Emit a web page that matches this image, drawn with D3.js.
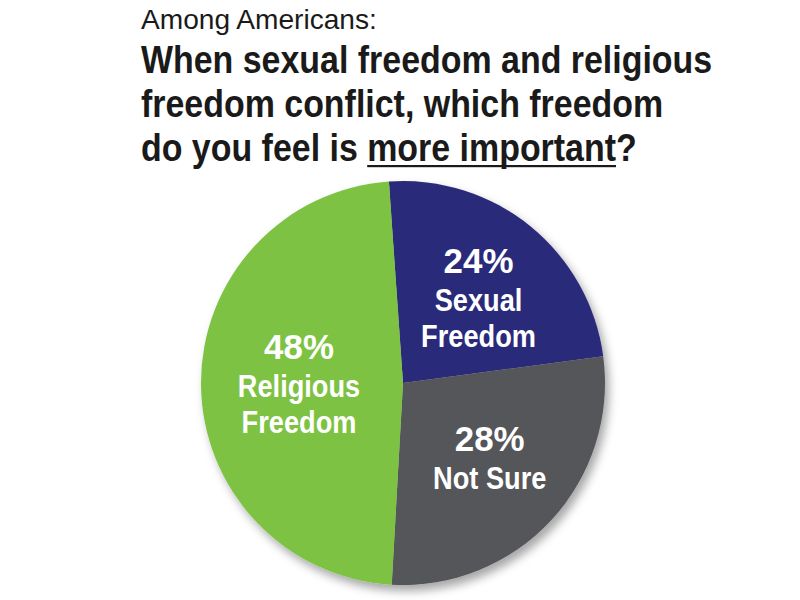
<!DOCTYPE html>
<html>
<head>
<meta charset="utf-8">
<script src="https://cdn.jsdelivr.net/npm/d3@7/dist/d3.min.js"></script>
<style>
  html, body { margin: 0; padding: 0; background: #ffffff; }
  svg { display: block; }
</style>
</head>
<body>
<svg id="chart" width="800" height="600"></svg>
<script>
// ---- data ----
const categories = ["Sexual Freedom", "Not Sure", "Religious Freedom"];
const values = [24, 28, 48];
const labelLines = [["Sexual", "Freedom"], ["Not Sure"], ["Religious", "Freedom"]];
const subtitle = "Among Americans:";
const titleLines = [
  "When sexual freedom and religious",
  "freedom conflict, which freedom",
  "do you feel is more important?"
];
const emphasis = "more important";

// ---- drawing ----
const svg = d3.select("#chart");
const cx = 403, cy = 383, R = 202;

const defs = svg.append("defs");
const f = defs.append("filter").attr("id", "shadow")
  .attr("x", "-20%").attr("y", "-20%").attr("width", "150%").attr("height", "150%");
f.append("feDropShadow").attr("dx", 4).attr("dy", 6).attr("stdDeviation", 5)
  .attr("flood-color", "#000").attr("flood-opacity", 0.35);

const color = d3.scaleOrdinal()
  .domain(categories)
  .range(["#2c2a7a", "#55565a", "#7dc242"]);

const start = -4 * Math.PI / 180;
const pie = d3.pie().sort(null).value(d => d.value)
  .startAngle(start).endAngle(start + 2 * Math.PI);
const arcs = pie(categories.map((c, i) => ({ cat: c, value: values[i], lines: labelLines[i] })));

const arc = d3.arc().innerRadius(0).outerRadius(R);
const labelArc = d3.arc().innerRadius(110).outerRadius(110);

const g = svg.append("g").attr("transform", `translate(${cx},${cy})`);
const slices = g.append("g").attr("filter", "url(#shadow)");
slices.selectAll("path").data(arcs).join("path")
  .attr("d", arc)
  .attr("fill", d => color(d.data.cat));

// labels
const lbl = g.selectAll("g.lbl").data(arcs).join("g").attr("class", "lbl")
  .attr("transform", d => {
    const [x, y] = labelArc.centroid(d);
    return `translate(${x + 6},${y + 3})`;
  });
lbl.each(function(d) {
  const sel = d3.select(this);
  const n = d.data.lines.length;
  const pctH = 38, lineH = 36;
  const total = pctH + n * lineH;
  const y0 = -total / 2 + 27;
  sel.append("text")
    .attr("text-anchor", "middle")
    .attr("x", 0).attr("y", y0)
    .attr("fill", "#ffffff")
    .attr("font-family", "'Liberation Sans', Arial, sans-serif")
    .attr("font-weight", "bold")
    .attr("font-size", 36)
    .attr("transform", "scale(0.97,1)")
    .text(d.data.value + "%");
  d.data.lines.forEach((t, i) => {
    sel.append("text")
      .attr("text-anchor", "middle")
      .attr("fill", "#ffffff")
      .attr("font-family", "'Liberation Sans', Arial, sans-serif")
      .attr("font-weight", "bold")
      .attr("font-size", 32)
      .attr("transform", `translate(0,${y0 + pctH + i * lineH}) scale(0.85,1)`)
      .text(t);
  });
});

// subtitle
const sub = svg.append("text")
  .attr("font-family", "'Liberation Sans', Arial, sans-serif")
  .attr("font-size", 27)
  .attr("fill", "#1a1a1a")
  .text(subtitle);
const subW = sub.node().getComputedTextLength();
sub.attr("transform", `translate(141,29) scale(${236 / subW},1)`);

// title lines, condensed
const titleX = 141, titleY = 73, titleLH = 44, titleScale = 0.87, titleSize = 39;
const lastIdx = titleLines.length - 1;
titleLines.forEach((t, i) => {
  const tx = svg.append("text")
    .attr("font-family", "'Liberation Sans', Arial, sans-serif")
    .attr("font-weight", "bold")
    .attr("font-size", titleSize)
    .attr("fill", "#1a1a1a")
    .attr("transform", `translate(${titleX},${titleY + i * titleLH}) scale(${titleScale},1)`)
    .text(t);
  const k = t.indexOf(emphasis);
  if (i === lastIdx && k >= 0) {
    try {
      const node = tx.node();
      const x0 = node.getStartPositionOfChar(k).x * titleScale + titleX;
      const x1 = node.getEndPositionOfChar(k + emphasis.length - 1).x * titleScale + titleX;
      svg.append("rect")
        .attr("x", x0).attr("y", titleY + i * titleLH + 4)
        .attr("width", x1 - x0).attr("height", 2.2)
        .attr("fill", "#1a1a1a");
    } catch (e) {}
  }
});
</script>
</body>
</html>
